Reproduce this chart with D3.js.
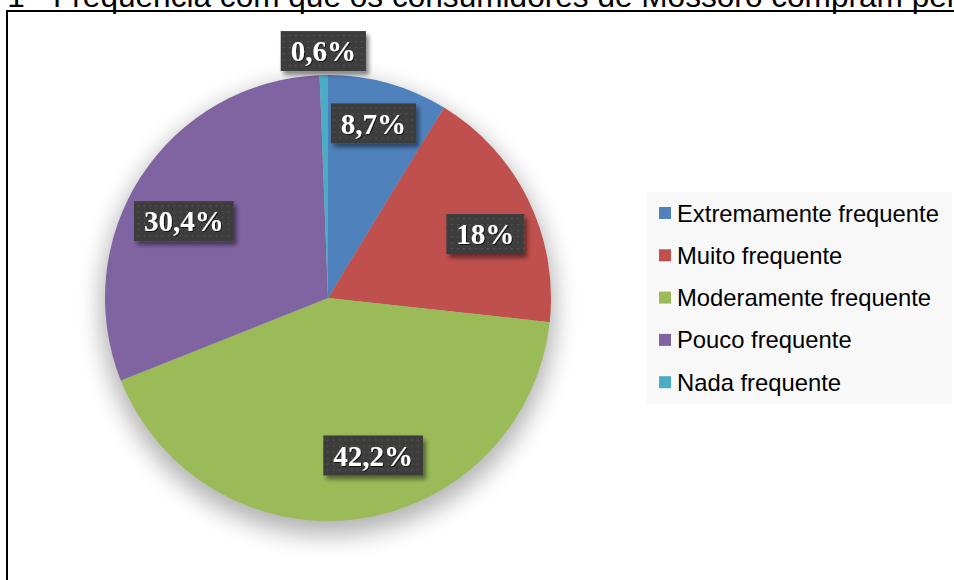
<!DOCTYPE html>
<html>
<head>
<meta charset="utf-8">
<script src="https://cdn.jsdelivr.net/npm/d3@7"></script>
<style>
    body { margin: 0; background: #fff; overflow: hidden; }
</style>
</head>
<body>
<div id="pie_chart"></div>
<script>
var categories = ['Extremamente frequente', 'Muito frequente', 'Moderamente frequente', 'Pouco frequente', 'Nada frequente'];
var values = [8.7, 18, 42.2, 30.4, 0.6];
var value_labels = ['8,7%', '18%', '42,2%', '30,4%', '0,6%'];
var colors = ['#4f81bd', '#c0504d', '#9bbb59', '#8064a2', '#4bacc6'];
var title = 'Gráfico 1 - Frequência com que os consumidores de Mossoró compram peixe';

var chart_width = 954;
var chart_height = 580;
var cx = 328, cy = 298, radius = 223;
// small hand moves of the data labels, like the ones made in the original
var label_nudge = [[-1, -9], [3, 12], [22, -13], [0, 17], [0, 0]];

var svg = d3.select('#pie_chart')
    .append('svg')
    .attr('width', chart_width)
    .attr('height', chart_height);

var defs = svg.append('defs');

// soft shadow under the pie
var pie_shadow = defs.append('filter')
    .attr('id', 'pie-shadow')
    .attr('x', '-30%').attr('y', '-30%')
    .attr('width', '160%').attr('height', '160%');
pie_shadow.append('feGaussianBlur').attr('stdDeviation', 12);

// shadow for the label boxes
var box_shadow = defs.append('filter')
    .attr('id', 'box-shadow')
    .attr('x', '-20%').attr('y', '-30%')
    .attr('width', '150%').attr('height', '170%');
box_shadow.append('feDropShadow')
    .attr('dx', 3).attr('dy', 4)
    .attr('stdDeviation', 2)
    .attr('flood-color', '#000')
    .attr('flood-opacity', 0.45);

var text_shadow = defs.append('filter').attr('id', 'text-shadow');
text_shadow.append('feDropShadow')
    .attr('dx', 1).attr('dy', 1)
    .attr('stdDeviation', 0.6)
    .attr('flood-color', '#000')
    .attr('flood-opacity', 0.7);

// dotted texture of the label boxes
var dots = defs.append('pattern')
    .attr('id', 'dots')
    .attr('width', 6).attr('height', 6)
    .attr('patternUnits', 'userSpaceOnUse');
dots.append('rect').attr('width', 6).attr('height', 6).attr('fill', '#3d3d3d');
dots.append('rect').attr('x', 2).attr('y', 2).attr('width', 1.2).attr('height', 1.2).attr('fill', '#5e5e5e');

// title (cut at the top of the picture)
var title_text = svg.append('text')
    .attr('y', 7)
    .style('font-family', 'Liberation Sans, Arial, sans-serif')
    .style('font-size', '31.6px')
    .attr('fill', '#000')
    .text(title);
var prefix_len = title_text.node().getSubStringLength(0, title.indexOf('Frequ'));
title_text.attr('x', 53 - prefix_len);

// frame
svg.append('rect')
    .attr('x', 7)
    .attr('y', 11)
    .attr('width', 1000)
    .attr('height', 700)
    .attr('fill', 'none')
    .attr('stroke', '#000')
    .attr('stroke-width', 2);

var pie = d3.pie().sort(null).value(function (d) { return d; });
var arc = d3.arc().innerRadius(0).outerRadius(radius);
var label_arc = d3.arc().innerRadius(172).outerRadius(172);
var outer_arc = d3.arc().innerRadius(radius + 24).outerRadius(radius + 24);
var arcs = pie(values);

var plot = svg.append('g')
    .attr('transform', 'translate(' + cx + ',' + cy + ')');

plot.append('circle')
    .attr('cx', 0)
    .attr('cy', 10)
    .attr('r', radius + 4)
    .attr('fill', '#000')
    .attr('opacity', 0.3)
    .attr('filter', 'url(#pie-shadow)');

plot.selectAll('path')
    .data(arcs)
    .enter()
    .append('path')
    .attr('d', arc)
    .attr('fill', function (d, i) { return colors[i]; });

// value labels
var labels = plot.selectAll('g.label')
    .data(arcs)
    .enter()
    .append('g')
    .attr('class', 'label')
    .attr('transform', function (d, i) {
        var p = (d.data < 2) ? outer_arc.centroid(d) : label_arc.centroid(d);
        return 'translate(' + (p[0] + label_nudge[i][0]) + ',' + (p[1] + label_nudge[i][1]) + ')';
    });

labels.append('rect')
    .attr('filter', 'url(#box-shadow)')
    .attr('fill', 'url(#dots)');

labels.append('text')
    .attr('text-anchor', 'middle')
    .attr('dy', '0.35em')
    .attr('fill', '#fff')
    .attr('filter', 'url(#text-shadow)')
    .style('font-family', 'Liberation Serif, DejaVu Serif, serif')
    .style('font-weight', 'bold')
    .style('font-size', '29px')
    .text(function (d, i) { return value_labels[i]; });

labels.each(function () {
    var g = d3.select(this);
    var w = g.select('text').node().getComputedTextLength() + 20;
    g.select('rect')
        .attr('x', -w / 2)
        .attr('y', -20)
        .attr('width', w)
        .attr('height', 40);
});

// legend
var legend = svg.append('g').attr('transform', 'translate(647,192)');
legend.append('rect')
    .attr('width', 305)
    .attr('height', 212)
    .attr('fill', '#f8f8f8');

var rows = legend.selectAll('g.row')
    .data(categories)
    .enter()
    .append('g')
    .attr('class', 'row')
    .attr('transform', function (d, i) { return 'translate(0,' + (21 + i * 42.3) + ')'; });

rows.append('rect')
    .attr('x', 12)
    .attr('y', -6)
    .attr('width', 12)
    .attr('height', 12)
    .attr('fill', function (d, i) { return colors[i]; });

rows.append('text')
    .attr('x', 30)
    .attr('dy', '0.36em')
    .style('font-family', 'Liberation Sans, Arial, sans-serif')
    .style('font-size', '23.8px')
    .attr('fill', '#000')
    .text(function (d) { return d; });
</script>
</body>
</html>
